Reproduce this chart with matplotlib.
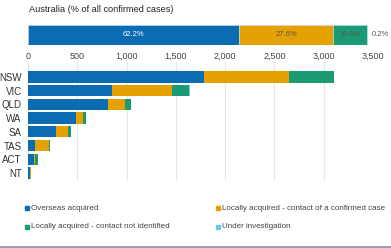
import matplotlib
matplotlib.use("Agg")
import matplotlib.pyplot as plt
from matplotlib.lines import Line2D
import numpy as np

plt.rcParams['font.family'] = ['Liberation Sans', 'DejaVu Sans']

states = ["NSW", "VIC", "QLD", "WA", "SA", "TAS", "ACT", "NT"]
overseas = [1786, 856, 810, 490, 286, 71, 62, 24]
local_contact = [857, 600, 170, 68, 124, 143, 4, 2]
local_unknown = [457, 180, 60, 27, 25, 5, 32, 1]
under_invest = [6, 4, 3, 2, 1, 1, 1, 0]

series_names = ["Overseas acquired", "Locally acquired - contact of a confirmed case",
                "Locally acquired - contact not identified", "Under investigation"]
colors = ["#0b6cb4", "#e6a100", "#1b9a74", "#6ec6e8"]

pct_values = [62.2, 27.6, 10.0, 0.2]
pct_labels = ["62.2%", "27.6%", "10.0%", "0.2%"]
xticks = [0, 500, 1000, 1500, 2000, 2500, 3000, 3500]
xticklabels = ["0", "500", "1,000", "1,500", "2,000", "2,500", "3,000", "3,500"]

W, H = 391, 248
fig = plt.figure(figsize=(W / 100, H / 100), dpi=100)

def px_axes(x0, y0, x1, y1):
    return fig.add_axes([x0 / W, 1 - y1 / H, (x1 - x0) / W, (y1 - y0) / H])

# Title
fig.text(29 / W, 1 - 10 / H, "Australia (% of all confirmed cases)", fontsize=6.6,
         color="#222222", fontweight="medium", va="center", ha="left")

# Top percentage bar
axp = px_axes(28, 25, 368, 45)
left = 0
for v, c, lab, i in zip(pct_values, colors, pct_labels, range(4)):
    axp.barh(0, v, left=left, color=c, height=1.0, edgecolor="#bfe3f5", linewidth=0.4)
    if i < 3:
        axp.text(left + v / 2, 0, lab, ha="center", va="center", fontsize=5.5,
                 color="white" if i == 0 else "#555555")
    else:
        axp.text(left + v + 1.0, 0, lab, ha="left", va="center", fontsize=5.5,
                 color="#555555", clip_on=False)
    left += v
axp.set_xlim(0, 100)
axp.set_ylim(-0.5, 0.5)
axp.axis("off")

# State bars
ax = px_axes(28, 62, 373, 180)
y = np.arange(len(states))
left = np.zeros(len(states))
for vals, c in zip([overseas, local_contact, local_unknown, under_invest], colors):
    ax.barh(y, vals, left=left, color=c, height=0.82, zorder=3)
    left = left + np.array(vals)
ax.set_xlim(0, 3500)
ax.set_ylim(7.51, -1.09)
ax.set_yticks(y)
ax.set_yticklabels(states, fontsize=7, color="#333333")
ax.xaxis.tick_top()
ax.set_xticks(xticks)
ax.set_xticklabels(xticklabels, fontsize=6.5, color="#444444")
ax.tick_params(axis="y", length=0, pad=4.5)
ax.tick_params(axis="x", length=0, pad=0.5)
ax.grid(axis="x", color="#e6e6e6", linewidth=0.8, zorder=0)
for s in ax.spines.values():
    s.set_visible(False)

# Legend (manual)
leg_pos = [(27, 208), (218, 208), (27, 227), (218, 227)]
for (lx, ly), name, c in zip(leg_pos, series_names, colors):
    fig.add_artist(Line2D([lx / W], [1 - ly / H], marker="s", markersize=2.2,
                          color=c, linestyle="none", transform=fig.transFigure))
    fig.text((lx + 4) / W, 1 - ly / H, name, fontsize=5.8, color="#444444",
             va="center", ha="left")

# Bottom border line
fig.add_artist(Line2D([0, 1], [1.5 / H, 1.5 / H], color="#8a8aa8", linewidth=1.2,
                      transform=fig.transFigure))

fig.savefig("out.png", dpi=100)
